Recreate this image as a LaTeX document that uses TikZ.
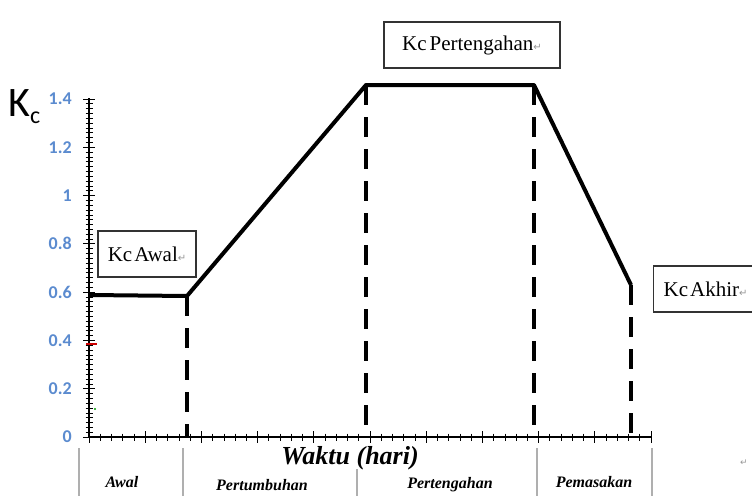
\documentclass[tikz,border=0pt]{standalone}
\usepackage{fontspec}
\setmainfont{Liberation Serif}
\newfontfamily\calib{Carlito}
\newfontfamily\symf{DejaVu Sans}
\definecolor{tickblue}{RGB}{91,139,207}
\definecolor{tablegray}{RGB}{175,175,175}
\definecolor{markgray}{RGB}{150,150,150}
\begin{document}
\begin{tikzpicture}[x=1pt,y=-1pt,
  curve/.style={line width=4pt,line join=round},
  dashline/.style={line width=4.5pt,dash pattern=on 20pt off 12pt},
  lblbox/.style={draw=black!80,line width=1.2pt,fill=white,inner sep=0pt,font=\fontsize{21}{22}\selectfont},
  ytick/.style={font=\calib\bfseries\fontsize{18}{19}\selectfont,text=tickblue,anchor=east,inner sep=0pt},
  tabline/.style={draw=tablegray,line width=1.4pt},
  tablbl/.style={font=\bfseries\itshape\fontsize{16}{17}\selectfont,inner sep=0pt},
  ret/.style={text=markgray,font=\symf\fontsize{9}{10}\selectfont}]
\useasboundingbox (0,0) rectangle (752,496);
% axes
\coordinate (o) at (89,437);
\coordinate (ytop) at (89,98);
\coordinate (xend) at (651,437);
\draw[line width=1.1pt] (ytop) -- (o) -- (xend);
% y ticks
\foreach \i in {0,...,70}{
  \pgfmathsetmacro{\yy}{437-\i*4.8286}
  \pgfmathtruncatemacro{\m}{mod(\i,10)}
  \ifnum\m=0
    \draw[line width=0.9pt] (83,\yy) -- (95,\yy);
  \else
    \draw[line width=0.7pt] (85.5,\yy) -- (92.5,\yy);
  \fi}
\foreach \v/\t in {0/0,1/0.2,2/0.4,3/0.6,4/0.8,5/1,6/1.2,7/1.4}{
  \node[ytick] (yl\v) at (72,437-\v*48.29) {\t};}
% x ticks
\foreach \i in {0,...,50}{
  \pgfmathsetmacro{\xx}{89+\i*11.24}
  \pgfmathtruncatemacro{\m}{mod(\i,5)}
  \ifnum\m=0
    \draw[line width=0.9pt] (\xx,431) -- (\xx,443);
  \else
    \draw[line width=0.7pt] (\xx,433.5) -- (\xx,440.5);
  \fi}
% stray marks
\draw[red!80!black,line width=1.4pt] (86,344) -- (97,344);
\fill[green!60!black] (95,409) circle (1.2pt);
% Kc label
\node[font=\calib\fontsize{42}{44}\selectfont,inner sep=0pt,anchor=base west] (kc) at (8,116) {K\raisebox{-7pt}{\fontsize{24}{24}\selectfont c}};
% curve
\coordinate (p0) at (90,295);
\coordinate (p1) at (187,296);
\coordinate (p2) at (366,85);
\coordinate (p3) at (534,85);
\coordinate (p4) at (631,285);
\coordinate (b1) at (187,437);
\coordinate (b2) at (366,437);
\coordinate (b3) at (534,437);
\coordinate (b4) at (631,437);
\draw[dashline] (p1) -- (b1);
\draw[dashline] (p2) -- (b2);
\draw[dashline] (p3) -- (b3);
\draw[dashline] (p4) -- (b4);
\draw[curve] (p0) -- (p1) -- (p2) -- (p3) -- (p4);
% boxes
\node[lblbox,minimum width=176pt,minimum height=46pt] (kcmid) at (472,45) {Kc\hspace{3pt}Pertengahan{\symf\color{markgray}\fontsize{10}{10}\selectfont ↵}};
\node[lblbox,minimum width=98pt,minimum height=46pt] (kcawal) at (147,254) {Kc\hspace{2pt}Awal{\symf\color{markgray}\fontsize{10}{10}\selectfont ↵}};
\node[lblbox,minimum width=104pt,minimum height=46pt,anchor=west] (kcakhir) at (653,289) {Kc\hspace{2pt}Akhir{\symf\color{markgray}\fontsize{10}{10}\selectfont ↵}};
% table
\foreach \x in {79,183,537,652}{\draw[tabline] (\x,448) -- (\x,496);}
\draw[tabline] (357,469) -- (357,496);
\node[font=\bfseries\itshape\fontsize{26}{28}\selectfont,inner sep=0pt] (waktu) at (350,458) {Waktu (hari)};
\node[tablbl] (awal) at (122,482) {Awal};
\node[tablbl] (pert) at (262,485) {Pertumbuhan};
\node[tablbl] (peng) at (450,485) {Pertengahan};
\node[tablbl] (pema) at (594,482) {Pemasakan};
\node[ret] (r1) at (744,463) {↵};
\end{tikzpicture}
\end{document}
